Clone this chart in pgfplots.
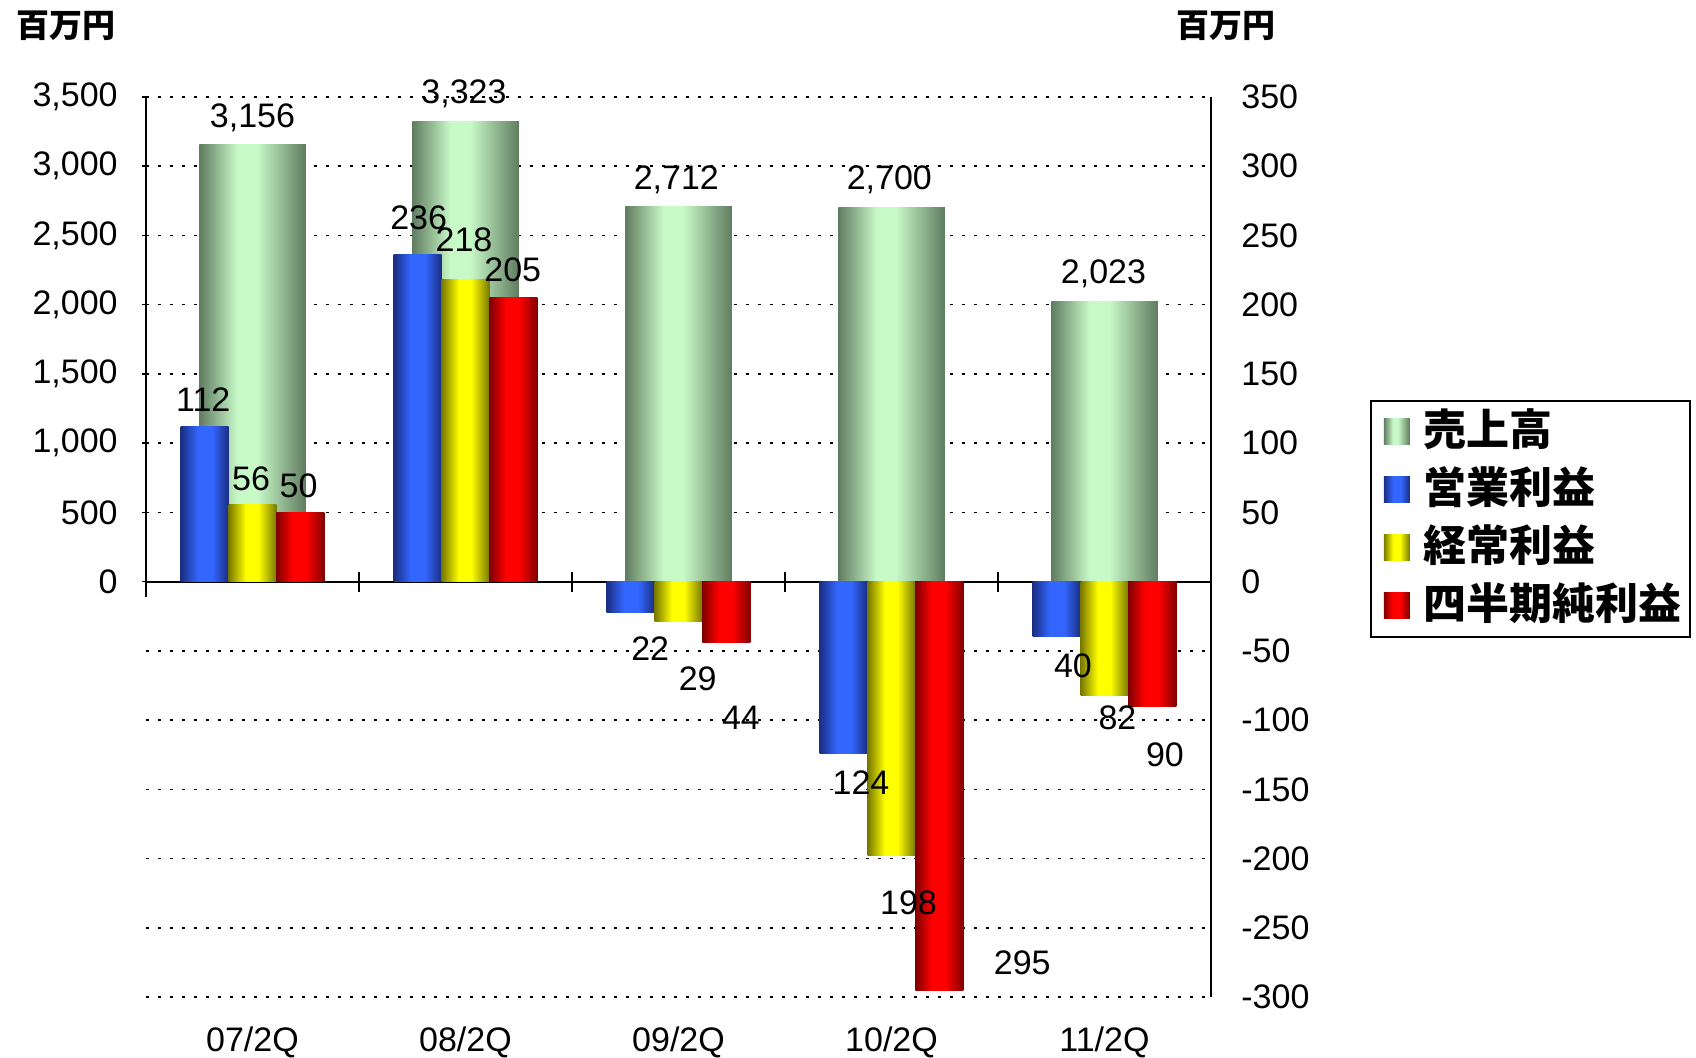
\documentclass[border=0pt]{standalone}
\usepackage{fontspec}
\setmainfont{Liberation Sans}
\newfontfamily\jp{Noto Sans CJK JP}
\usepackage{pgfplots}
\pgfplotsset{compat=1.18}
\definecolor{gD}{RGB}{96,124,96}
\definecolor{gL}{RGB}{200,250,200}
\definecolor{bD}{RGB}{26,46,130}
\definecolor{bL}{RGB}{51,102,255}
\definecolor{yD}{RGB}{120,120,0}
\definecolor{yL}{RGB}{255,255,0}
\definecolor{rD}{RGB}{128,0,0}
\definecolor{rL}{RGB}{255,0,0}
\pgfdeclarehorizontalshading{gbar}{100bp}{color(0bp)=(gD); color(25bp)=(gD); color(43bp)=(gL); color(52bp)=(gL); color(75bp)=(gD); color(100bp)=(gD)}
\pgfdeclarehorizontalshading{bbar}{100bp}{color(0bp)=(bD); color(25bp)=(bD); color(43bp)=(bL); color(58bp)=(bL); color(75bp)=(bD); color(100bp)=(bD)}
\pgfdeclarehorizontalshading{ybarsh}{100bp}{color(0bp)=(yD); color(25bp)=(yD); color(43bp)=(yL); color(56bp)=(yL); color(75bp)=(yD); color(100bp)=(yD)}
\pgfdeclarehorizontalshading{rbar}{100bp}{color(0bp)=(rD); color(25bp)=(rD); color(42bp)=(rL); color(56bp)=(rL); color(75bp)=(rD); color(100bp)=(rD)}
\newcommand\numfont{\fontsize{17}{20}\selectfont}
\pgfplotsset{
  salesbar/.style={ybar, bar width=0.5, bar shift=0, draw=none, shading=gbar, forget plot},
  opbar/.style={ybar, bar width=0.225, bar shift=-0.225, draw=none, shading=bbar, forget plot},
  ordbar/.style={ybar, bar width=0.225, bar shift=0, draw=none, shading=ybarsh, forget plot},
  netbar/.style={ybar, bar width=0.225, bar shift=0.225, draw=none, shading=rbar, forget plot},
}
\begin{document}
\begin{tikzpicture}
\pgfplotsset{
  common/.style={
    scale only axis, width=532.5pt, height=450pt,
    at={(73pt,30.5pt)}, anchor=south west,
    xmin=-0.5, xmax=4.5,
    tick label style={font=\numfont},
    /pgf/number format/assume math mode=true,
    /pgf/number format/1000 sep={,},
    clip=false,
  }
}
% sales axis (left)
\begin{axis}[common,
  ymin=-3000, ymax=3500,
  axis y line*=left, axis x line*=bottom,
  y axis line style={draw=none}, x axis line style={draw=none},
  ytick={0,500,...,3500},
  ymajorgrids,
  grid style={black, line width=0.75pt, dash pattern=on 1.6pt off 4.4pt},
  extra y ticks={-3000,-2500,...,-500},
  extra y tick labels={},
  extra y tick style={grid=major, major tick length=0pt},
  ytick style={black, line width=0.75pt},
  tick align=outside,
  major tick length=2pt,
  xtick={0,1,2,3,4},
  xticklabels={07/2Q,08/2Q,09/2Q,10/2Q,11/2Q},
  xtick style={draw=none},
  xticklabel style={anchor=north, inner sep=0pt, yshift=-12.5pt},
  yticklabel style={anchor=east, inner sep=0pt, xshift=-12pt},
]
% 売上高 (百万円)
\addplot[salesbar] coordinates {(0,3156)};
\addplot[salesbar] coordinates {(1,3323)};
\addplot[salesbar] coordinates {(2,2712)};
\addplot[salesbar] coordinates {(3,2700)};
\addplot[salesbar] coordinates {(4,2023)};
\draw[black, line width=1pt] (axis cs:-0.5,3500) -- (axis cs:-0.5,-110);
\end{axis}
% profit axis (right)
\begin{axis}[common,
  ymin=-300, ymax=350,
  axis y line*=right, axis x line*=middle,
  axis line style={black, line width=1pt},
  ytick={-300,-250,...,350},
  ytick style={draw=none},
  yticklabel style={anchor=west, inner sep=0pt, xshift=15pt},
  xtick={-0.5,0.5,...,4.5},
  xticklabels={},
  xtick style={black, line width=1pt},
  xtick align=center,
  major tick length=10pt,
  legend cell align=left,
  legend image code/.code={\fill[#1] (4.5pt,-6.5pt) rectangle (17.5pt,6.5pt); \path (0pt,0pt) (22.5pt,0pt);},
  legend style={at={(1.1493,0.6633)}, anchor=north west, draw=black, line width=0.75pt,
    font=\jp\bfseries\fontsize{21.5}{24}\selectfont,
    row sep=0pt, inner xsep=2pt, inner ysep=1pt,
    nodes={inner ysep=3.5pt, text height=18pt, text depth=4pt}},
]
\addlegendimage{draw=none, shading=gbar}
\addlegendentry{売上高}
\addlegendimage{draw=none, shading=bbar}
\addlegendentry{営業利益}
\addlegendimage{draw=none, shading=ybarsh}
\addlegendentry{経常利益}
\addlegendimage{draw=none, shading=rbar}
\addlegendentry{四半期純利益}
% 営業利益
\addplot[opbar] coordinates {(0,112)};
\addplot[opbar] coordinates {(1,236)};
\addplot[opbar] coordinates {(2,-22)};
\addplot[opbar] coordinates {(3,-124)};
\addplot[opbar] coordinates {(4,-40)};
% 経常利益
\addplot[ordbar] coordinates {(0,56)};
\addplot[ordbar] coordinates {(1,218)};
\addplot[ordbar] coordinates {(2,-29)};
\addplot[ordbar] coordinates {(3,-198)};
\addplot[ordbar] coordinates {(4,-82)};
% 四半期純利益
\addplot[netbar] coordinates {(0,50)};
\addplot[netbar] coordinates {(1,205)};
\addplot[netbar] coordinates {(2,-44)};
\addplot[netbar] coordinates {(3,-295)};
\addplot[netbar] coordinates {(4,-90)};
\tikzset{lbl/.style={font=\numfont, inner sep=0pt}}
\node[lbl] at (axis cs:0,335) {3,156};
\node[lbl] at (axis cs:0.993,352.4) {3,323};
\node[lbl] at (axis cs:1.99,290.5) {2,712};
\node[lbl] at (axis cs:2.99,290.5) {2,700};
\node[lbl] at (axis cs:3.995,222.4) {2,023};
\node[lbl] at (axis cs:-0.231,131.6) {112};
\node[lbl] at (axis cs:-0.007,74.4) {56};
\node[lbl] at (axis cs:0.216,68.9) {50};
\node[lbl] at (axis cs:0.780,263.1) {236};
\node[lbl] at (axis cs:0.993,246.7) {218};
\node[lbl] at (axis cs:1.222,225.5) {205};
\node[lbl] at (axis cs:1.867,-48.6) {22};
\node[lbl] at (axis cs:2.090,-70.5) {29};
\node[lbl] at (axis cs:2.293,-98.7) {44};
\node[lbl] at (axis cs:2.857,-144.9) {124};
\node[lbl] at (axis cs:3.080,-231.8) {198};
\node[lbl] at (axis cs:3.614,-275.6) {295};
\node[lbl] at (axis cs:3.852,-61.1) {40};
\node[lbl] at (axis cs:4.061,-98.7) {82};
\node[lbl] at (axis cs:4.284,-125.3) {90};
\end{axis}
\node[font=\jp\bfseries\fontsize{16.5}{20}\selectfont, inner sep=0pt] at (33pt,516pt) {百万円};
\node[font=\jp\bfseries\fontsize{16.5}{20}\selectfont, inner sep=0pt] at (613pt,516pt) {百万円};
\pgfresetboundingbox
\path (0,0) rectangle (848pt,529pt);
\end{tikzpicture}
\end{document}
